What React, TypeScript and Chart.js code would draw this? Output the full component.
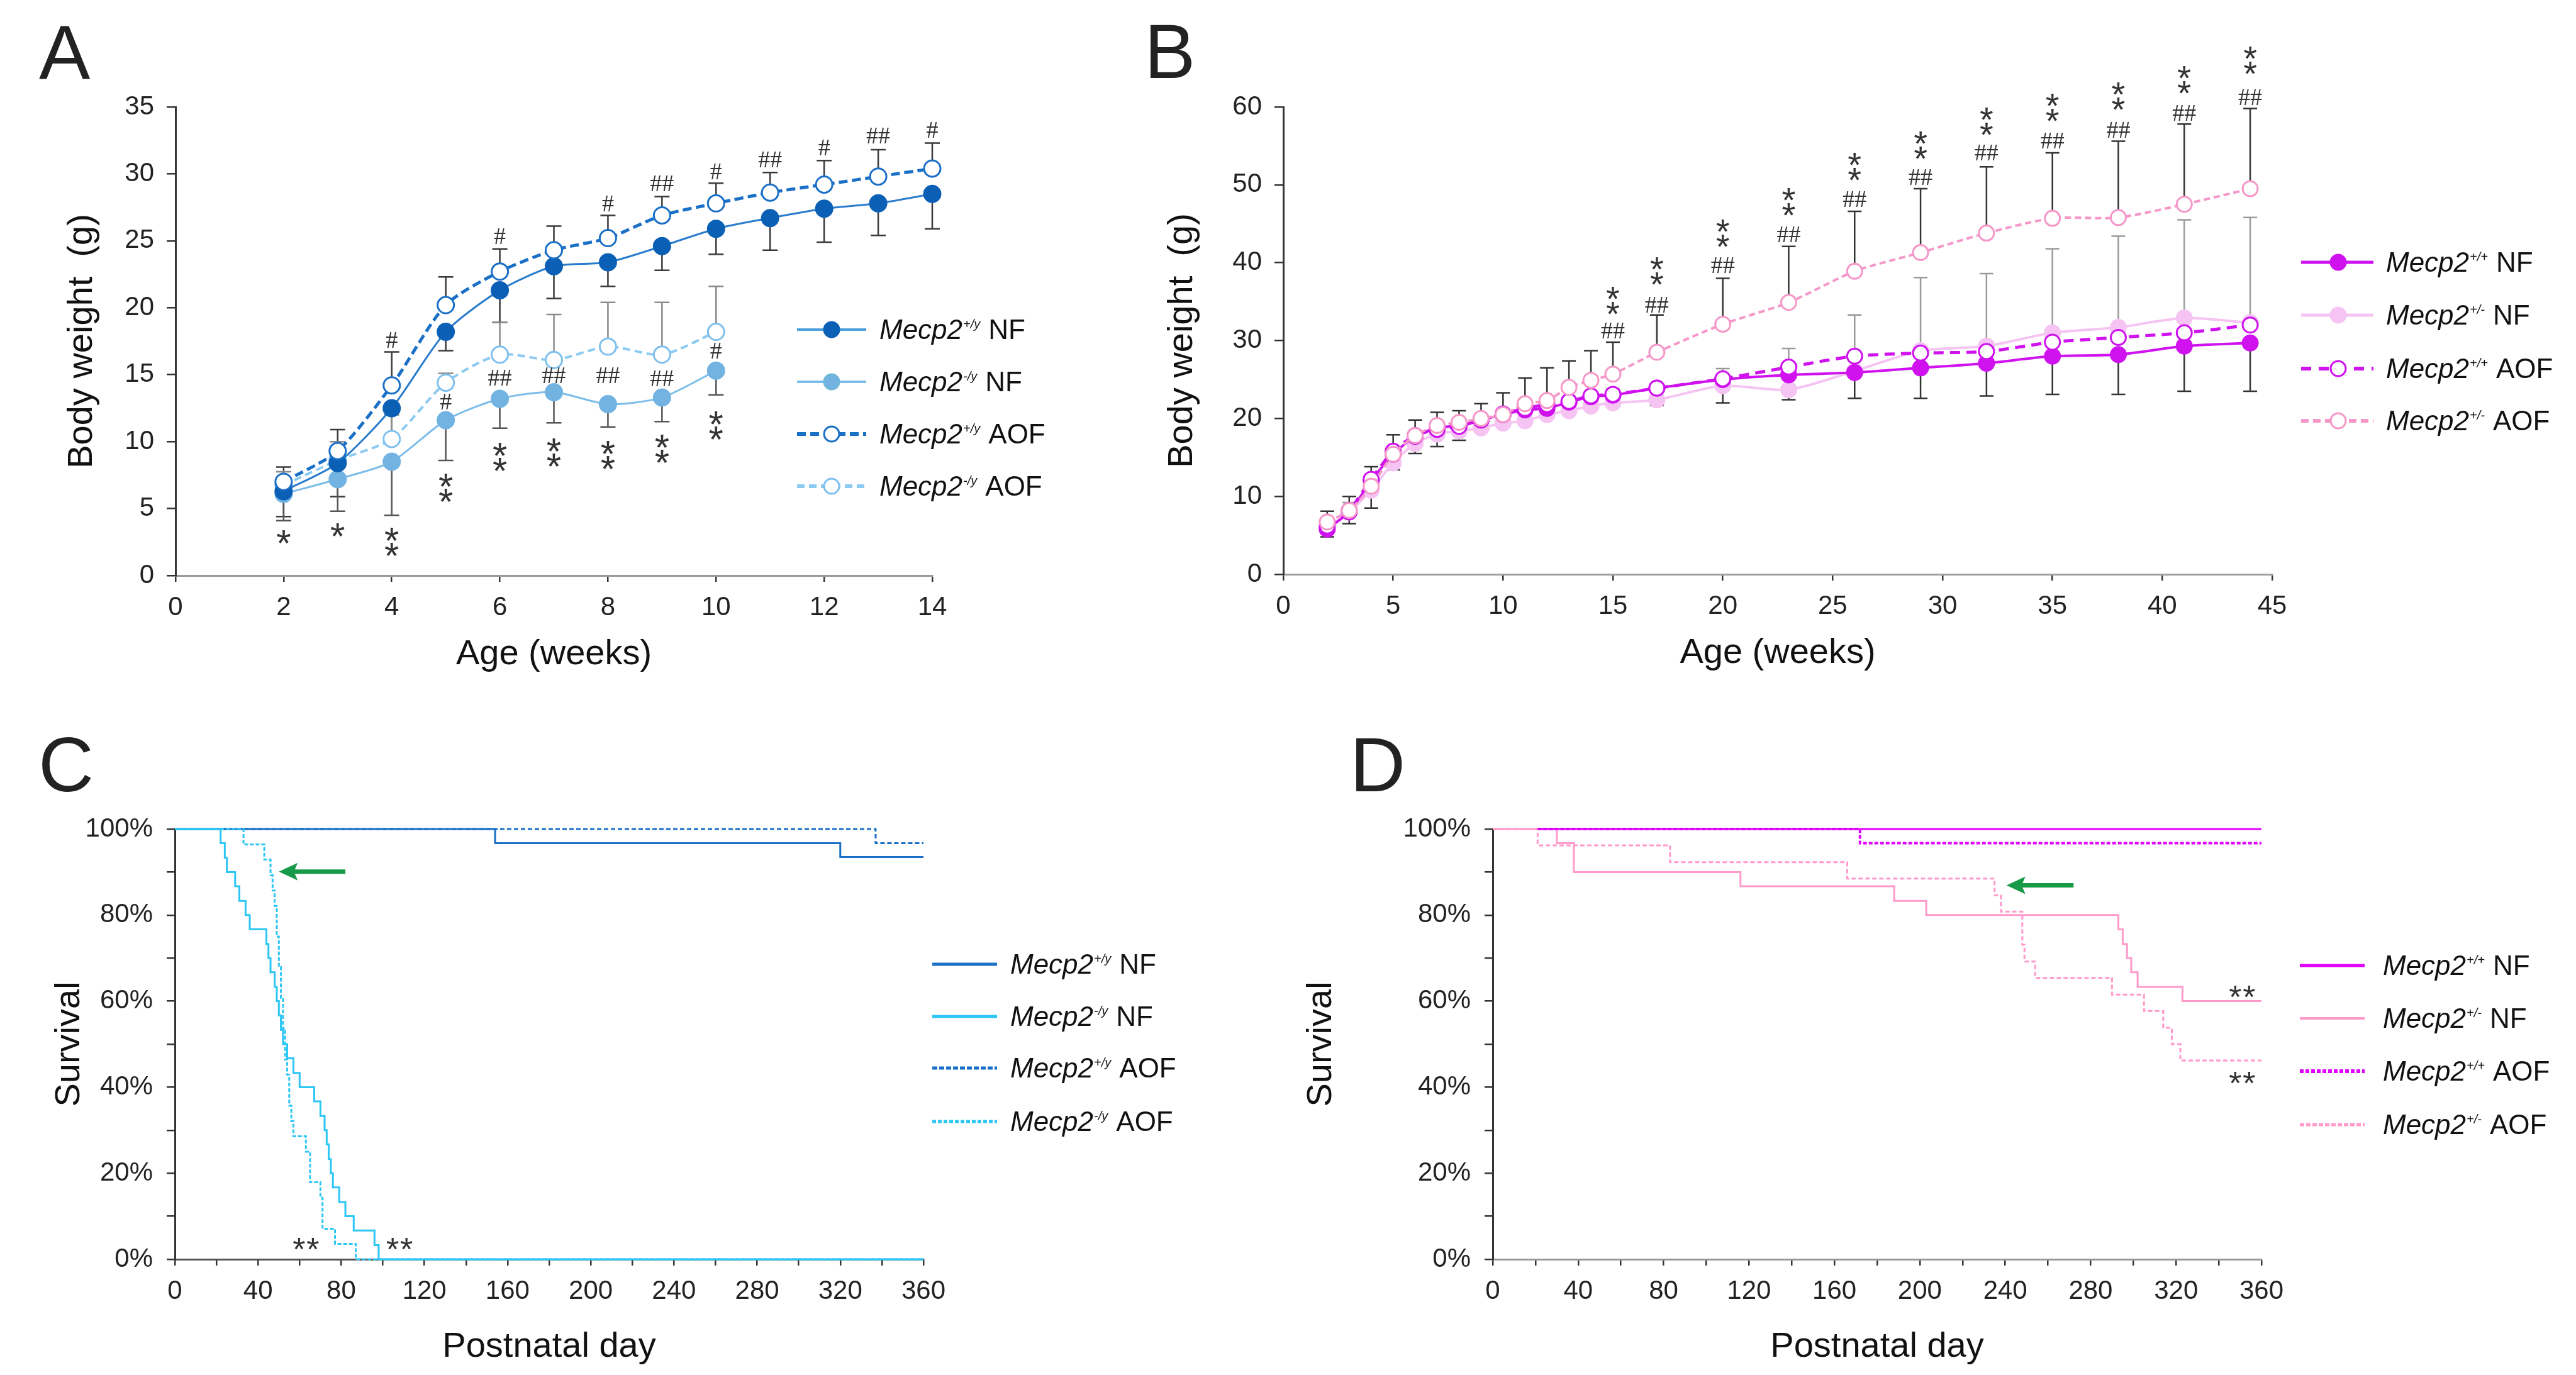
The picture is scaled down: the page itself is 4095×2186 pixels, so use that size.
import React, { useEffect, useRef } from 'react';
import { Chart, registerables } from 'chart.js';

Chart.register(...registerables);

const SANS = '"Liberation Sans", Arial, Helvetica, sans-serif';
const SERIF = '"Liberation Serif", "Times New Roman", serif';

// ---------------- Panel A (males, body weight) ----------------
const weeksA = [2, 3, 4, 5, 6, 7, 8, 9, 10, 11, 12, 13, 14];
const wtNF_A = [6.3, 8.4, 12.5, 18.2, 21.3, 23.1, 23.4, 24.6, 25.9, 26.7, 27.4, 27.8, 28.5];
const koNF_A = [6.1, 7.2, 8.5, 11.6, 13.2, 13.7, 12.8, 13.3, 15.3];
const wtAOF_A = [7.0, 9.3, 14.2, 20.2, 22.7, 24.3, 25.2, 26.9, 27.8, 28.6, 29.2, 29.8, 30.4];
const koAOF_A = [6.75, 8.6, 10.2, 14.4, 16.5, 16.1, 17.1, 16.5, 18.2];
const wtNF_A_errLow = [1.9, 2.5, 2.0, 1.4, 2.4, 2.4, 1.8, 1.8, 1.9, 2.4, 2.5, 2.4, 2.6];
const koNF_A_errLow = [2.0, 2.4, 4.0, 3.0, 2.2, 2.3, 1.7, 1.8, 1.8];
const wtAOF_A_errUp = [1.1, 1.6, 2.5, 2.1, 1.7, 1.8, 1.7, 1.4, 1.5, 1.5, 1.8, 2.0, 1.9];
const koAOF_A_errUp = [1.0, 1.4, 1.8, 0.7, 2.4, 3.4, 3.3, 3.9, 3.4];
const starsA_x = [2, 3, 4, 5, 6, 7, 8, 9, 10];
const starsA_y = [3.1, 3.6, 2.7, 6.75, 9.05, 9.4, 9.2, 9.65, 11.4];
const starsA_n = [1, 1, 2, 2, 2, 2, 2, 2, 2];
const hashA_x = [4, 5, 6, 6, 7, 8, 8, 9, 9, 10, 10, 11, 12, 13, 14];
const hashA_y = [17.6, 13.0, 25.35, 14.8, 15.0, 27.8, 15.0, 29.3, 14.75, 30.2, 16.8, 31.1, 32.0, 32.9, 33.3];
const hashA_t = ['#', '#', '#', '##', '##', '#', '##', '##', '##', '#', '#', '##', '#', '##', '#'];

// ---------------- Panel B (females, body weight) ----------------
const weeksB = [2, 3, 4, 5, 6, 7, 8, 9, 10, 11, 12, 13, 14, 15, 17, 20, 23, 26, 29, 32, 35, 38, 41, 44];
const wtNF_B = [5.8, 8.0, 12.0, 15.4, 17.7, 18.8, 19.1, 19.8, 20.5, 21.1, 21.3, 22.1, 22.8, 23.0, 23.9, 25.0, 25.6, 25.9, 26.5, 27.1, 28.0, 28.2, 29.3, 29.7];
const hetNF_B = [6.0, 8.0, 10.8, 14.3, 16.8, 18.0, 18.4, 18.8, 19.4, 19.7, 20.5, 21.0, 21.6, 22.0, 22.4, 24.2, 23.7, 26.1, 28.7, 29.3, 31.0, 31.7, 32.9, 32.3];
const wtAOF_B = [6.2, 8.2, 12.2, 15.8, 17.8, 18.6, 19.0, 19.8, 20.6, 21.3, 21.8, 22.2, 22.9, 23.1, 23.9, 25.1, 26.6, 28.0, 28.4, 28.6, 29.8, 30.4, 31.0, 32.0];
const hetAOF_B = [6.7, 8.2, 11.3, 15.4, 17.8, 19.1, 19.5, 20.0, 20.5, 21.9, 22.3, 24.0, 24.9, 25.7, 28.5, 32.1, 34.9, 38.9, 41.3, 43.8, 45.7, 45.8, 47.5, 49.5];
const wtNF_B_errLow = [1.0, 1.5, 3.5, 2.0, 2.2, 2.4, 1.9, 1.3, 1.3, 1.3, 1.3, 1.3, 1.3, 1.3, 2.2, 3.0, 3.2, 3.3, 3.9, 4.2, 4.9, 5.1, 5.8, 6.2];
const hetAOF_B_errUp = [1.4, 1.8, 2.5, 2.5, 2.0, 1.7, 1.5, 1.9, 2.8, 3.3, 4.2, 3.4, 3.8, 4.1, 4.8, 5.9, 7.2, 7.7, 8.2, 8.5, 8.4, 9.8, 10.3, 10.3];
const hetNF_B_errUp = [1.0, 1.2, 1.5, 1.5, 1.5, 1.5, 1.5, 1.5, 1.5, 1.6, 1.8, 1.8, 1.8, 1.8, 2.0, 2.2, 5.3, 7.2, 9.4, 9.3, 10.8, 11.7, 12.6, 13.5];
const signifB_x = [15, 17, 20, 23, 26, 29, 32, 35, 38, 41, 44];
const hashB_y = [31.35, 34.6, 39.7, 43.7, 48.2, 51.0, 54.2, 55.7, 57.1, 59.3, 61.3];
const starsB_y = [35.5, 39.3, 44.1, 48.2, 52.7, 55.4, 58.5, 60.3, 61.7, 63.8, 66.3];

// ---------------- Panel C (males, survival) ----------------
const wtNF_C_day = [0, 154, 320, 360];
const wtNF_C_surv = [100, 96.7, 93.5, 93.5];
const wtAOF_C_day = [0, 337, 360];
const wtAOF_C_surv = [100, 96.7, 96.7];
const koNF_C_day = [0, 22, 24, 25, 29, 31, 34, 36, 44, 45, 46, 48, 49, 50, 51, 52, 54, 57, 60, 67, 70, 72, 73, 74, 75, 76, 79, 82, 86, 96, 98, 360];
const koNF_C_surv = [100, 96.7, 93.3, 90.0, 86.7, 83.3, 80.0, 76.7, 73.3, 70.0, 66.7, 63.3, 60.0, 56.7, 53.3, 50.0, 46.7, 43.3, 40.0, 36.7, 33.3, 30.0, 26.7, 23.3, 20.0, 16.7, 13.3, 10.0, 6.7, 3.3, 0, 0];
const koAOF_C_day = [0, 33, 43, 46, 47, 48, 49, 50, 51, 52, 53, 54, 55, 56, 57, 63, 65, 70, 71, 77, 87, 360];
const koAOF_C_surv = [100, 96.4, 92.9, 89.3, 85.7, 82.1, 75.0, 67.9, 60.7, 53.6, 46.4, 42.9, 35.7, 32.1, 28.6, 25.0, 17.9, 14.3, 7.1, 3.6, 0, 0];
const starsC_x = [63, 108];
const starsC_y = [4.1, 4.1];
const arrowC = [82, 50, 90.1];

// ---------------- Panel D (females, survival) ----------------
const wtNF_D_day = [21, 360];
const wtNF_D_surv = [100, 100];
const wtAOF_D_day = [21, 172, 360];
const wtAOF_D_surv = [100, 96.7, 96.7];
const hetNF_D_day = [0, 30, 38, 116, 188, 203, 293, 295, 297, 299, 302, 323, 360];
const hetNF_D_surv = [100, 96.7, 90.0, 86.7, 83.3, 80.0, 76.7, 73.3, 70.0, 66.7, 63.3, 60.0, 60.0];
const hetAOF_D_day = [0, 21, 83, 166, 235, 238, 248, 249, 254, 290, 305, 314, 318, 322, 360];
const hetAOF_D_surv = [100, 96.2, 92.3, 88.5, 84.6, 80.8, 73.1, 69.2, 65.4, 61.5, 57.7, 53.8, 50.0, 46.2, 46.2];
const starsD_x = [351, 351];
const starsD_y = [62.8, 42.7];
const arrowD = [272, 240.6, 86.9];

// ---------------- colours ----------------
const C_DARK = '#1a6fc6';
const C_DARK_FILL = '#0b60b6';
const C_LIGHT = '#7cbde9';
const C_LIGHT_FILL = '#72b3e2';
const C_CYAN = '#2cc6f5';
const M_MAG = '#cf12ee';
const M_LIGHT = '#f5c4f3';
const M_PINK = '#f598c9';
const D_MAG = '#e000ff';
const D_PINK = '#ff9acb';
const GREEN = '#179a48';

// ---------------- helpers ----------------
const pts = (xs: number[], ys: number[]) => ys.map((y, i) => ({ x: xs[i], y }));

type LegendItem = {
  line: string; width: number; dash: number[];
  marker?: 'filled' | 'open'; mFill?: string; mStroke?: string;
  sup: string; suffix: string;
};
type ErrSpec = { xs: number[]; ys: number[]; errs: number[]; dir: number; color: string };
type Extras = {
  letter: string; lx: number; ly: number;
  legend: { x1: number; x2: number; mx: number; tx: number; rows: number[]; items: LegendItem[] };
  errs?: ErrSpec[]; capHalf?: number;
  stars?: { xs: number[]; ys: number[]; ns: number[]; vertical: boolean };
  starSize?: number; starGap?: number;
  hashes?: { xs: number[]; ys: number[]; ts: string[] };
  arrows?: number[][];
};

function drawLabel(ctx: CanvasRenderingContext2D, x: number, y: number, sup: string, suffix: string) {
  ctx.fillStyle = '#111';
  ctx.textAlign = 'left';
  ctx.textBaseline = 'alphabetic';
  ctx.font = `italic 44px ${SANS}`;
  ctx.fillText('Mecp2', x, y);
  const w = ctx.measureText('Mecp2').width;
  ctx.font = `italic 20px ${SANS}`;
  ctx.fillText(sup, x + w + 1, y - 17);
  const w2 = ctx.measureText(sup).width;
  ctx.font = `44px ${SANS}`;
  ctx.fillText(suffix, x + w + w2 + 14, y);
}

function drawStar(ctx: CanvasRenderingContext2D, x: number, cy: number, size: number) {
  ctx.font = `${size}px ${SANS}`;
  ctx.textAlign = 'center';
  ctx.textBaseline = 'alphabetic';
  ctx.fillText('*', x, cy + size * 0.58);
}

function makeExtras(ex: Extras) {
  return {
    id: 'extras',
    beforeDatasetsDraw(chart: any) {
      const ctx: CanvasRenderingContext2D = chart.ctx;
      const xS = chart.scales.x;
      const yS = chart.scales.y;
      ctx.save();
      const cap = ex.capHalf || 11;
      for (const eb of ex.errs || []) {
        ctx.strokeStyle = eb.color;
        ctx.lineWidth = 2.5;
        eb.errs.forEach((e, i) => {
          const px = xS.getPixelForValue(eb.xs[i]);
          const y0 = yS.getPixelForValue(eb.ys[i]);
          const y1 = yS.getPixelForValue(eb.ys[i] + eb.dir * e);
          ctx.beginPath();
          ctx.moveTo(px, y0);
          ctx.lineTo(px, y1);
          ctx.moveTo(px - cap, y1);
          ctx.lineTo(px + cap, y1);
          ctx.stroke();
        });
      }
      ctx.restore();
    },
    afterDraw(chart: any) {
      const ctx: CanvasRenderingContext2D = chart.ctx;
      const xS = chart.scales.x;
      const yS = chart.scales.y;
      ctx.save();
      // significance marks
      ctx.fillStyle = '#333';
      const ss = ex.starSize || 58;
      const sg = ex.starGap || 24;
      if (ex.stars) {
        const s = ex.stars;
        s.xs.forEach((xv, i) => {
          const px = xS.getPixelForValue(xv);
          const cy = yS.getPixelForValue(s.ys[i]);
          const n = s.ns[i];
          ctx.fillStyle = '#333';
          for (let k = 0; k < n; k++) {
            const off = (k - (n - 1) / 2) * sg;
            if (s.vertical) drawStar(ctx, px, cy + off, ss);
            else drawStar(ctx, px + off, cy, ss);
          }
        });
      }
      if (ex.hashes) {
        const h = ex.hashes;
        ctx.font = `38px ${SERIF}`;
        ctx.textAlign = 'center';
        ctx.textBaseline = 'alphabetic';
        h.xs.forEach((xv, i) => {
          const px = xS.getPixelForValue(xv);
          const cy = yS.getPixelForValue(h.ys[i]);
          ctx.fillStyle = '#333';
          ctx.fillText(h.ts[i], px, cy + 38 * 0.34);
        });
      }
      // arrows
      for (const a of ex.arrows || []) {
        const x1 = xS.getPixelForValue(a[0]);
        const xt = xS.getPixelForValue(a[1]);
        const y = yS.getPixelForValue(a[2]);
        ctx.strokeStyle = GREEN;
        ctx.fillStyle = GREEN;
        ctx.lineWidth = 7;
        ctx.beginPath();
        ctx.moveTo(x1, y);
        ctx.lineTo(xt + 20, y);
        ctx.stroke();
        ctx.beginPath();
        ctx.moveTo(xt, y);
        ctx.lineTo(xt + 30, y - 14);
        ctx.lineTo(xt + 24, y);
        ctx.lineTo(xt + 30, y + 14);
        ctx.closePath();
        ctx.fill();
      }
      // legend
      const lg = ex.legend;
      lg.items.forEach((it, i) => {
        const y = lg.rows[i];
        ctx.strokeStyle = it.line;
        ctx.lineWidth = it.width;
        ctx.setLineDash(it.dash);
        ctx.beginPath();
        ctx.moveTo(lg.x1, y);
        ctx.lineTo(lg.x2, y);
        ctx.stroke();
        ctx.setLineDash([]);
        if (it.marker) {
          ctx.beginPath();
          ctx.arc(lg.mx, y, 12, 0, Math.PI * 2);
          ctx.fillStyle = it.marker === 'open' ? '#ffffff' : (it.mFill as string);
          ctx.fill();
          ctx.lineWidth = 3;
          ctx.strokeStyle = it.mStroke as string;
          ctx.stroke();
        }
        drawLabel(ctx, lg.tx, y + 15, it.sup, it.suffix);
      });
      // panel letter
      ctx.fillStyle = '#222';
      ctx.font = `122px ${SANS}`;
      ctx.textAlign = 'left';
      ctx.textBaseline = 'alphabetic';
      ctx.fillText(ex.letter, ex.lx, ex.ly);
      ctx.restore();
    },
  };
}

type AxisOpts = {
  min: number; max: number; step: number; title: string; titlePad: number; size: number;
  fmt?: (v: number) => string; border: string; tickLen: number; tickPad: number;
};

function xAxis(o: AxisOpts) {
  return {
    type: 'linear', min: o.min, max: o.max,
    ticks: {
      stepSize: o.step, autoSkip: false, maxRotation: 0, color: '#222', padding: o.tickPad,
      font: { family: SANS, size: 42 },
      callback: (v: any) => (o.fmt ? o.fmt(Number(v)) : String(v)),
    },
    grid: { drawOnChartArea: false, drawTicks: true, tickLength: o.tickLen, color: '#333', lineWidth: 2.5 },
    border: { display: true, color: o.border, width: 3 },
    title: { display: true, text: o.title, color: '#111', font: { family: SANS, size: 56 }, padding: { top: 0, bottom: o.titlePad } },
    afterFit: (s: any) => { s.height = o.size; },
  };
}

function yAxis(o: AxisOpts) {
  return {
    type: 'linear', min: o.min, max: o.max,
    ticks: {
      stepSize: o.step, autoSkip: false, color: '#222', padding: o.tickPad,
      font: { family: SANS, size: 42 },
      callback: (v: any) => (o.fmt ? o.fmt(Number(v)) : String(v)),
    },
    grid: { drawOnChartArea: false, drawTicks: true, tickLength: o.tickLen, color: '#333', lineWidth: 2.5 },
    border: { display: true, color: o.border, width: 3 },
    title: { display: true, text: o.title, color: '#111', font: { family: SANS, size: 56 }, padding: { top: o.titlePad, bottom: 0 } },
    afterFit: (s: any) => { s.width = o.size; },
  };
}

function baseOptions(pad: any, x: any, y: any) {
  return {
    responsive: false,
    animation: false,
    devicePixelRatio: 1,
    events: [],
    layout: { padding: pad },
    plugins: { legend: { display: false }, tooltip: { enabled: false } },
    scales: { x, y },
  };
}

function lineDS(data: any[], color: string, width: number, dash: number[], marker: 'filled' | 'open', fill: string, stroke: string, radius: number) {
  return {
    data, borderColor: color, borderWidth: width, borderDash: dash, tension: 0.25,
    pointRadius: radius, pointBorderWidth: 3,
    pointBackgroundColor: marker === 'open' ? '#ffffff' : fill,
    pointBorderColor: stroke, clip: false, fill: false,
  };
}

function stepDS(days: number[], surv: number[], color: string, width: number, dash: number[]) {
  return {
    data: pts(days, surv), borderColor: color, borderWidth: width, borderDash: dash,
    stepped: true, pointRadius: 0, clip: false, fill: false, tension: 0,
  };
}

// ---------------- chart configs ----------------
function configA() {
  const extras: Extras = {
    letter: 'A', lx: 62, ly: 126,
    legend: {
      x1: 1267, x2: 1377, mx: 1322, tx: 1398, rows: [524, 607, 690, 773],
      items: [
        { line: '#4f9fdc', width: 4, dash: [], marker: 'filled', mFill: C_DARK_FILL, mStroke: C_DARK_FILL, sup: '+/y', suffix: 'NF' },
        { line: C_LIGHT, width: 4, dash: [], marker: 'filled', mFill: C_LIGHT_FILL, mStroke: '#6fb8d8', sup: '-/y', suffix: 'NF' },
        { line: C_DARK, width: 6, dash: [14, 7], marker: 'open', mStroke: C_DARK, sup: '+/y', suffix: 'AOF' },
        { line: '#8ccaf2', width: 6, dash: [12, 7], marker: 'open', mStroke: '#7fc0ee', sup: '-/y', suffix: 'AOF' },
      ],
    },
    errs: [
      { xs: weeksA, ys: wtNF_A, errs: wtNF_A_errLow, dir: -1, color: '#3a3a3a' },
      { xs: weeksA, ys: koNF_A, errs: koNF_A_errLow, dir: -1, color: '#555555' },
      { xs: weeksA, ys: wtAOF_A, errs: wtAOF_A_errUp, dir: 1, color: '#3a3a3a' },
      { xs: weeksA, ys: koAOF_A, errs: koAOF_A_errUp, dir: 1, color: '#8a8a8a' },
    ],
    capHalf: 12,
    stars: { xs: starsA_x, ys: starsA_y, ns: starsA_n, vertical: true },
    starSize: 60, starGap: 24,
    hashes: { xs: hashA_x, ys: hashA_y, ts: hashA_t },
  };
  return {
    type: 'line',
    data: {
      datasets: [
        lineDS(pts(weeksA, wtAOF_A), C_DARK, 5, [14, 7], 'open', '#fff', C_DARK, 13),
        lineDS(pts(weeksA, wtNF_A), '#2a7ccd', 3, [], 'filled', C_DARK_FILL, C_DARK_FILL, 13),
        lineDS(pts(weeksA, koAOF_A), '#8ccaf2', 4, [12, 7], 'open', '#fff', '#7fc0ee', 13),
        lineDS(pts(weeksA, koNF_A), C_LIGHT, 3, [], 'filled', C_LIGHT_FILL, C_LIGHT_FILL, 13),
      ],
    },
    options: baseOptions(
      { left: 0, top: 170, right: 298, bottom: 0 },
      xAxis({ min: 0, max: 14, step: 2, title: 'Age (weeks)', titlePad: 26, size: 185, border: '#9a9a9a', tickLen: 10, tickPad: 16 }),
      yAxis({ min: 0, max: 35, step: 5, title: 'Body weight  (g)', titlePad: 97, size: 279, border: '#333', tickLen: 14, tickPad: 20 }),
    ),
    plugins: [makeExtras(extras)],
  };
}

function configB() {
  const extras: Extras = {
    letter: 'B', lx: 39, ly: 124,
    legend: {
      x1: 1878, x2: 1993, mx: 1937, tx: 2013, rows: [417, 501, 586, 669],
      items: [
        { line: M_MAG, width: 5, dash: [], marker: 'filled', mFill: M_MAG, mStroke: M_MAG, sup: '+/+', suffix: 'NF' },
        { line: M_LIGHT, width: 5, dash: [], marker: 'filled', mFill: M_LIGHT, mStroke: M_LIGHT, sup: '+/-', suffix: 'NF' },
        { line: M_MAG, width: 6, dash: [16, 12], marker: 'open', mStroke: M_MAG, sup: '+/+', suffix: 'AOF' },
        { line: M_PINK, width: 6, dash: [12, 7], marker: 'open', mStroke: M_PINK, sup: '+/-', suffix: 'AOF' },
      ],
    },
    errs: [
      { xs: weeksB, ys: wtNF_B, errs: wtNF_B_errLow, dir: -1, color: '#333333' },
      { xs: weeksB, ys: hetNF_B, errs: hetNF_B_errUp, dir: 1, color: '#9a9a9a' },
      { xs: weeksB, ys: hetAOF_B, errs: hetAOF_B_errUp, dir: 1, color: '#333333' },
    ],
    capHalf: 11,
    stars: { xs: signifB_x, ys: starsB_y, ns: signifB_x.map(() => 2), vertical: true },
    starSize: 56, starGap: 24,
    hashes: { xs: signifB_x, ys: hashB_y, ts: signifB_x.map(() => '##') },
  };
  return {
    type: 'line',
    data: {
      datasets: [
        lineDS(pts(weeksB, hetAOF_B), M_PINK, 4, [10, 6], 'open', '#fff', M_PINK, 12),
        lineDS(pts(weeksB, wtAOF_B), M_MAG, 5, [16, 10], 'open', '#fff', M_MAG, 12),
        lineDS(pts(weeksB, wtNF_B), M_MAG, 4, [], 'filled', M_MAG, M_MAG, 12),
        lineDS(pts(weeksB, hetNF_B), M_LIGHT, 4, [], 'filled', M_LIGHT, M_LIGHT, 12),
      ],
    },
    options: baseOptions(
      { left: 0, top: 170, right: 483, bottom: 0 },
      xAxis({ min: 0, max: 45, step: 5, title: 'Age (weeks)', titlePad: 28, size: 187, border: '#a0a0a0', tickLen: 10, tickPad: 16 }),
      yAxis({ min: 0, max: 60, step: 10, title: 'Body weight  (g)', titlePad: 66, size: 260, border: '#333', tickLen: 14, tickPad: 20 }),
    ),
    plugins: [makeExtras(extras)],
  };
}

const dayFmt = (v: number) => (v % 40 === 0 ? String(v) : '');
const pctFmt = (v: number) => (v % 20 === 0 ? v + '%' : '');

function configC() {
  const extras: Extras = {
    letter: 'C', lx: 61, ly: 158,
    legend: {
      x1: 1482, x2: 1585, mx: 0, tx: 1606, rows: [433, 516, 598, 683],
      items: [
        { line: C_DARK, width: 5, dash: [], sup: '+/y', suffix: 'NF' },
        { line: C_CYAN, width: 5, dash: [], sup: '-/y', suffix: 'NF' },
        { line: C_DARK, width: 5, dash: [8, 3], sup: '+/y', suffix: 'AOF' },
        { line: C_CYAN, width: 5, dash: [6, 3], sup: '-/y', suffix: 'AOF' },
      ],
    },
    stars: { xs: starsC_x, ys: starsC_y, ns: [2, 2], vertical: false },
    starSize: 52, starGap: 22,
    arrows: [arrowC],
  };
  return {
    type: 'line',
    data: {
      datasets: [
        stepDS(koAOF_C_day, koAOF_C_surv, C_CYAN, 3, [6, 3]),
        stepDS(koNF_C_day, koNF_C_surv, C_CYAN, 3, []),
        stepDS(wtAOF_C_day, wtAOF_C_surv, C_DARK, 3, [7, 4]),
        stepDS(wtNF_C_day, wtNF_C_surv, C_DARK, 3, []),
      ],
    },
    options: baseOptions(
      { left: 0, top: 218, right: 482, bottom: 0 },
      xAxis({ min: 0, max: 360, step: 20, title: 'Postnatal day', titlePad: 11, size: 184, border: '#555', tickLen: 10, tickPad: 16, fmt: dayFmt }),
      yAxis({ min: 0, max: 100, step: 10, title: 'Survival', titlePad: 77, size: 278, border: '#333', tickLen: 13, tickPad: 22, fmt: pctFmt }),
    ),
    plugins: [makeExtras(extras)],
  };
}

function configD() {
  const extras: Extras = {
    letter: 'D', lx: 196, ly: 158,
    legend: {
      x1: 1706, x2: 1809, mx: 0, tx: 1838, rows: [435, 519, 603, 688],
      items: [
        { line: D_MAG, width: 5, dash: [], sup: '+/+', suffix: 'NF' },
        { line: D_PINK, width: 4, dash: [], sup: '+/-', suffix: 'NF' },
        { line: D_MAG, width: 6, dash: [6, 3], sup: '+/+', suffix: 'AOF' },
        { line: D_PINK, width: 5, dash: [7, 3], sup: '+/-', suffix: 'AOF' },
      ],
    },
    stars: { xs: starsD_x, ys: starsD_y, ns: [2, 2], vertical: false },
    starSize: 52, starGap: 22,
    arrows: [arrowD],
  };
  return {
    type: 'line',
    data: {
      datasets: [
        stepDS(wtNF_D_day, wtNF_D_surv, D_MAG, 3, []),
        stepDS(wtAOF_D_day, wtAOF_D_surv, D_MAG, 4, [6, 3]),
        stepDS(hetAOF_D_day, hetAOF_D_surv, D_PINK, 3, [7, 4]),
        stepDS(hetNF_D_day, hetNF_D_surv, D_PINK, 3, []),
      ],
    },
    options: baseOptions(
      { left: 0, top: 218, right: 500, bottom: 0 },
      xAxis({ min: 0, max: 360, step: 20, title: 'Postnatal day', titlePad: 11, size: 184, border: '#999', tickLen: 10, tickPad: 16, fmt: dayFmt }),
      yAxis({ min: 0, max: 100, step: 10, title: 'Survival', titlePad: 117, size: 423, border: '#333', tickLen: 13, tickPad: 22, fmt: pctFmt }),
    ),
    plugins: [makeExtras(extras)],
  };
}

function Panel(props: { left: number; top: number; width: number; height: number; make: () => any }) {
  const ref = useRef<HTMLCanvasElement>(null);
  useEffect(() => {
    const chart = new Chart(ref.current as HTMLCanvasElement, props.make());
    return () => chart.destroy();
  }, []);
  return (
    <canvas
      ref={ref}
      width={props.width}
      height={props.height}
      style={{ position: 'absolute', left: props.left, top: props.top, width: props.width, height: props.height }}
    />
  );
}

export default function App() {
  return (
    <div style={{ position: 'absolute', left: 0, top: 0, width: 4095, height: 2186, background: '#ffffff', overflow: 'hidden' }}>
      <Panel left={0} top={0} width={1780} height={1100} make={configA} />
      <Panel left={1780} top={0} width={2315} height={1100} make={configB} />
      <Panel left={0} top={1100} width={1950} height={1086} make={configC} />
      <Panel left={1950} top={1100} width={2145} height={1086} make={configD} />
    </div>
  );
}
